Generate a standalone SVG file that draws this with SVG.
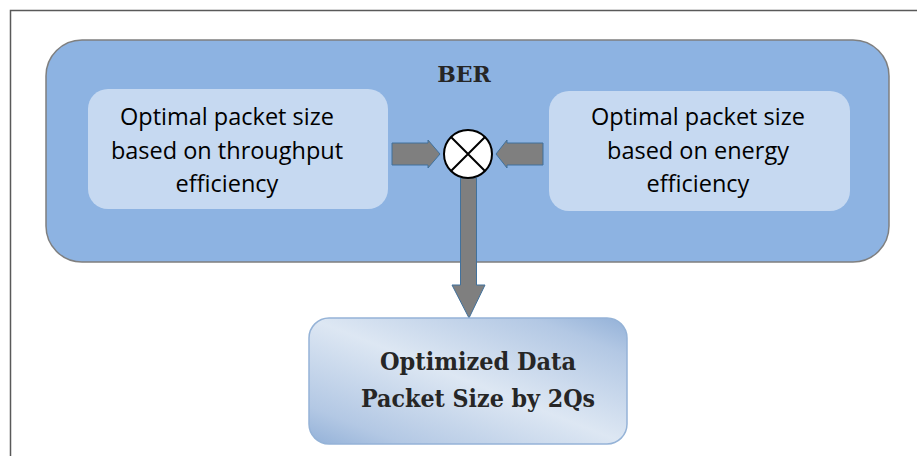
<svg xmlns="http://www.w3.org/2000/svg" width="917" height="456" viewBox="0 0 917 456">
<defs>
<style>
.inner{fill:#c6d9f1;stroke:none}
.lbl{font-family:"Open Sans","Liberation Sans",sans-serif;font-size:23.5px;fill:#000;text-anchor:middle}
.bold{font-family:"DejaVu Serif","Liberation Serif",serif;font-weight:bold;fill:#262626;text-anchor:middle}
.arr{fill:#7f7f7f;stroke:#41719c;stroke-width:1}
</style>
<linearGradient id="g" x1="1" y1="0" x2="0" y2="1">
<stop offset="0" stop-color="#93b1d8"/>
<stop offset="0.15" stop-color="#b3c8e4"/>
<stop offset="0.5" stop-color="#dde7f3"/>
<stop offset="0.85" stop-color="#b3c8e4"/>
<stop offset="1" stop-color="#93b1d8"/>
</linearGradient>
</defs>
<rect width="917" height="456" fill="#fff"/>
<path d="M10.5 456 V10.5 H917" fill="none" stroke="#595959" stroke-width="1.5"/>
<g id="ber">
<rect x="46" y="40" width="843" height="222" rx="36" fill="#8db3e2" stroke="#7f7f7f" stroke-width="1.5"/>
<text x="464" y="82" class="bold" font-size="22" fill="#000">BER</text>
</g>
<g id="throughput">
<rect class="inner" x="88" y="89" width="300" height="120" rx="20"/>
<text class="lbl" x="227" y="125">Optimal packet size</text>
<text class="lbl" x="227" y="159">based on throughput</text>
<text class="lbl" x="227" y="192">efficiency</text>
</g>
<g id="energy">
<rect class="inner" x="549" y="91" width="301" height="120" rx="20"/>
<text class="lbl" x="698" y="125">Optimal packet size</text>
<text class="lbl" x="698" y="159">based on energy</text>
<text class="lbl" x="698" y="192">efficiency</text>
</g>
<g id="connectors">
<path class="arr" d="M392 143 H428 V140 L440 154 L428 168 V165 H392 Z"/>
<path class="arr" d="M543 143 H507 V140 L496 154 L507 168 V165 H543 Z"/>
<path class="arr" d="M460.5 178 H476.5 V285 H485 L469 318 L452 285 H460.5 Z"/>
</g>
<g id="mult">
<circle cx="468" cy="154" r="24" fill="#fff" stroke="#000" stroke-width="2"/>
<path d="M451 137 L485 171 M485 137 L451 171" stroke="#000" stroke-width="2"/>
</g>
<g id="result">
<rect x="309" y="318" width="318" height="126" rx="20" fill="url(#g)" stroke="#95b3d7" stroke-width="1.5"/>
<text class="bold" x="478" y="370" font-size="24.5" textLength="196" lengthAdjust="spacingAndGlyphs">Optimized Data</text>
<text class="bold" x="478" y="407" font-size="24.5" textLength="234" lengthAdjust="spacingAndGlyphs">Packet Size by 2Qs</text>
</g>
</svg>
